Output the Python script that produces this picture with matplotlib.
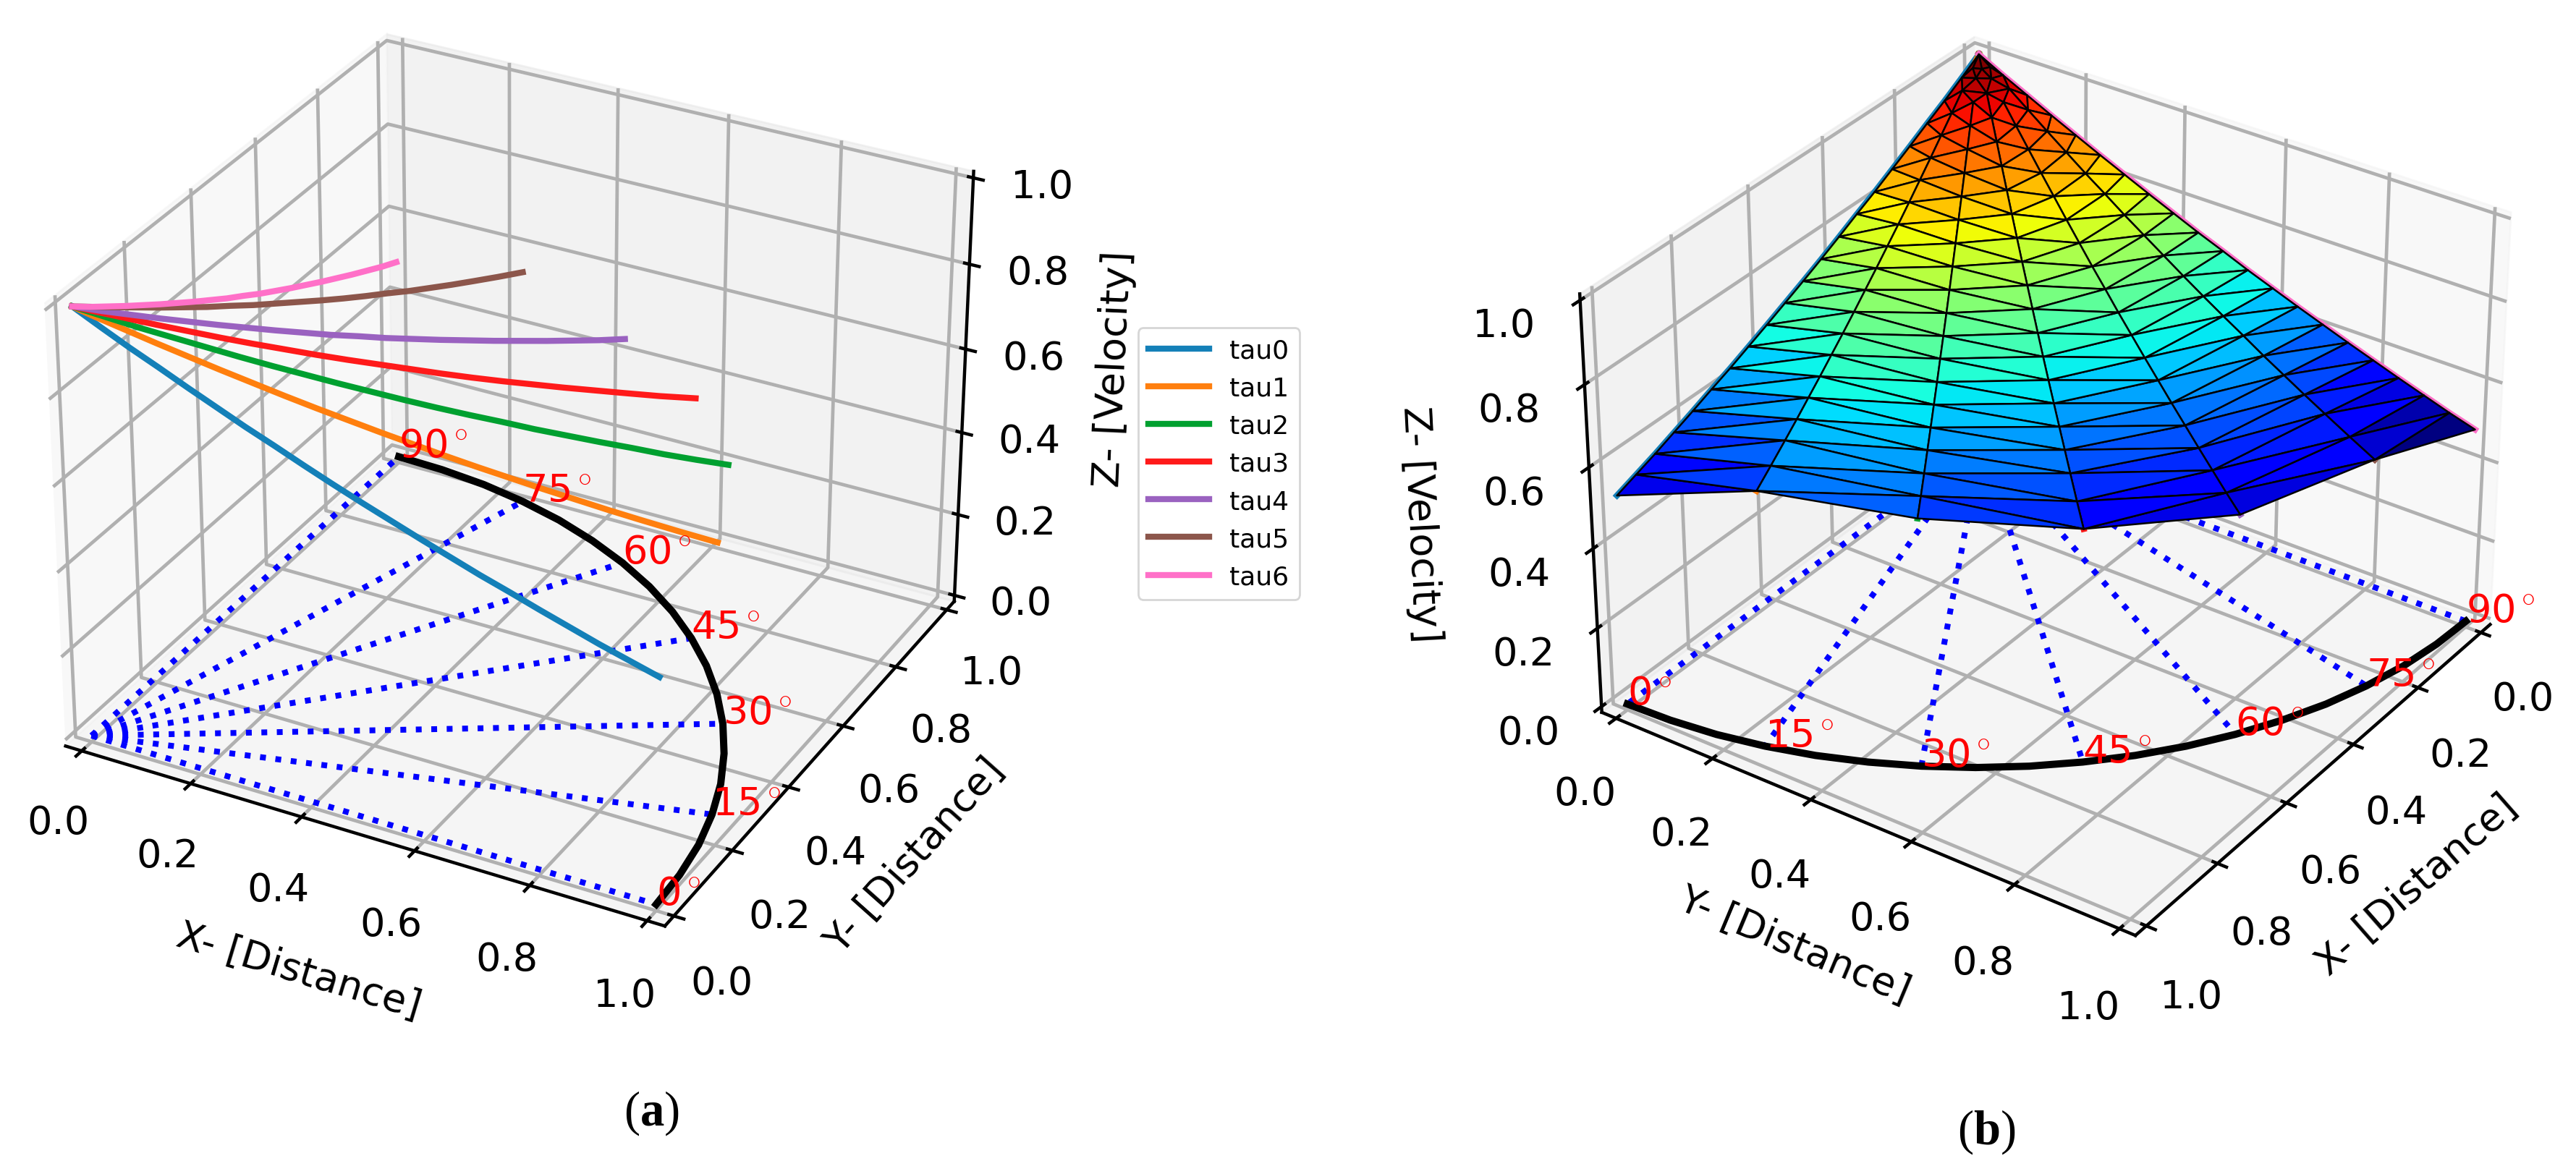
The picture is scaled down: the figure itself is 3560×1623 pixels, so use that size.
import numpy as np
import matplotlib
matplotlib.use("Agg")
import matplotlib.pyplot as plt

W = 3560
H = 1624

plt.rcParams['font.family'] = ['DejaVu Sans']
plt.rcParams['font.size'] = 19.5
plt.rcParams['mathtext.fontset'] = 'custom'
plt.rcParams['mathtext.rm'] = 'Liberation Serif'
plt.rcParams['mathtext.bf'] = 'Liberation Serif:bold'
plt.rcParams['axes.linewidth'] = 1.6
plt.rcParams['grid.linewidth'] = 1.7
plt.rcParams['xtick.major.width'] = 1.6
plt.rcParams['ytick.major.width'] = 1.6
plt.rcParams['xtick.major.size'] = 6
plt.rcParams['ytick.major.size'] = 6

tau_names = ["tau0", "tau1", "tau2", "tau3", "tau4", "tau5", "tau6"]
tau_colors = ["#1480b8", "#ff7f0e", "#00a030", "#ff1a1a", "#9a62c0", "#8c564b", "#ff70c8"]
angle_labels = ["0", "15", "30", "45", "60", "75", "90"]

# direction of each tau on the floor
ray_x = [1.0, 0.966, 0.866, 0.707, 0.5, 0.259, 0.0]
ray_y = [0.0, 0.259, 0.5, 0.707, 0.866, 0.966, 1.0]

# points of the black quarter circle
arc_x = [1.0, 0.996, 0.985, 0.966, 0.94, 0.906, 0.866, 0.819, 0.766, 0.707,
         0.643, 0.574, 0.5, 0.423, 0.342, 0.259, 0.174, 0.087, 0.0]
arc_y = [0.0, 0.087, 0.174, 0.259, 0.342, 0.423, 0.5, 0.574, 0.643, 0.707,
         0.766, 0.819, 0.866, 0.906, 0.94, 0.966, 0.985, 0.996, 1.0]

# even and odd taus are not sampled at the same radius
radius_even = [0.0, 0.05, 0.1, 0.15, 0.2, 0.25, 0.3, 0.35, 0.4, 0.45, 0.5,
               0.55, 0.6, 0.65, 0.7, 0.75, 0.8, 0.85, 0.9, 0.95, 1.0]
radius_odd = [0.0, 0.03, 0.08, 0.13, 0.18, 0.23, 0.28, 0.33, 0.38, 0.43, 0.48,
              0.53, 0.58, 0.63, 0.68, 0.73, 0.78, 0.83, 0.88, 0.94, 1.0]

z_tau0 = [1.0, 0.970, 0.941, 0.914, 0.886, 0.859, 0.832, 0.807, 0.781, 0.756, 0.732,
          0.709, 0.686, 0.664, 0.642, 0.622, 0.601, 0.581, 0.561, 0.543, 0.525]
z_tau1 = [1.0, 0.985, 0.962, 0.939, 0.917, 0.895, 0.874, 0.853, 0.833, 0.814, 0.795,
          0.777, 0.759, 0.742, 0.726, 0.710, 0.695, 0.680, 0.666, 0.650, 0.635]
z_tau2 = [1.0, 0.975, 0.950, 0.927, 0.904, 0.881, 0.859, 0.838, 0.817, 0.797, 0.777,
          0.758, 0.740, 0.723, 0.705, 0.689, 0.673, 0.658, 0.642, 0.628, 0.615]
z_tau3 = [1.0, 0.984, 0.958, 0.932, 0.907, 0.882, 0.858, 0.835, 0.812, 0.790, 0.769,
          0.748, 0.727, 0.707, 0.688, 0.670, 0.652, 0.635, 0.618, 0.598, 0.580]
z_tau4 = [1.0, 0.971, 0.944, 0.917, 0.891, 0.865, 0.840, 0.815, 0.791, 0.767, 0.745,
          0.722, 0.701, 0.680, 0.660, 0.640, 0.621, 0.602, 0.584, 0.566, 0.550]
z_tau5 = [1.0, 0.984, 0.957, 0.931, 0.905, 0.880, 0.855, 0.832, 0.808, 0.786, 0.764,
          0.742, 0.721, 0.701, 0.682, 0.662, 0.644, 0.626, 0.609, 0.589, 0.570]
z_tau6 = [1.0, 0.968, 0.938, 0.908, 0.879, 0.850, 0.822, 0.794, 0.767, 0.740, 0.715,
          0.689, 0.665, 0.641, 0.618, 0.595, 0.573, 0.551, 0.530, 0.509, 0.490]
z_all = [z_tau0, z_tau1, z_tau2, z_tau3, z_tau4, z_tau5, z_tau6]

ticks = [0.0, 0.2, 0.4, 0.6, 0.8, 1.0]


def tau_radius(i):
    if i % 2 == 0:
        return np.array(radius_even)
    return np.array(radius_odd)


def make_axes(fig, center_x, center_y, side, elev, azim):
    rect = [(center_x - side / 2) / W, 1 - (center_y + side / 2) / H, side / W, side / H]
    ax = fig.add_axes(rect, projection='3d')
    ax.set_facecolor('none')
    ax.computed_zorder = False
    ax.view_init(elev=elev, azim=azim)
    ax.set_xlim(-0.03, 1.03, view_margin=0)
    ax.set_ylim(-0.03, 1.03, view_margin=0)
    ax.set_zlim(-0.015, 1.015, view_margin=0)
    ax.set_xticks(ticks)
    ax.set_yticks(ticks)
    ax.set_zticks(ticks)
    ax.tick_params(axis='x', pad=13)
    ax.tick_params(axis='y', pad=13)
    ax.tick_params(axis='z', pad=13)
    return ax


def draw_floor(ax):
    for i in range(7):
        ax.plot([0, ray_x[i]], [0, ray_y[i]], [0, 0], ':', color='#0000ff', lw=2.9, zorder=1)
    for i in range(7):
        rad = tau_radius(i)
        ax.plot(rad * ray_x[i], rad * ray_y[i], z_all[i], color=tau_colors[i], lw=3,
                label=tau_names[i], zorder=2)


def draw_arc(ax):
    ax.plot(arc_x, arc_y, np.zeros(len(arc_x)), color='black', lw=3.6, zorder=4)
    for i in range(7):
        ax.text(ray_x[i], ray_y[i], 0, angle_labels[i] + r"$^\circ$", color='#ff0000',
                fontsize=19.5, zorder=5)


fig = plt.figure(figsize=(W / 200, H / 200), dpi=200)

ax1 = make_axes(fig, 698, 655, 1442, 30, -62)
ax1.tick_params(axis='x', pad=11)
draw_floor(ax1)
draw_arc(ax1)
ax1.set_xlabel("X- [Distance]", labelpad=27)
ax1.set_ylabel("Y- [Distance]", labelpad=24)
ax1.set_zlabel("Z- [Velocity]", labelpad=26)
ax1.legend(loc='center left', bbox_to_anchor=(1573 / W, 1 - 642 / H),
           bbox_transform=fig.transFigure, borderaxespad=0, fontsize=13, handlelength=2.3)

ax2 = make_axes(fig, 2816, 663, 1402, 32, 35)
draw_floor(ax2)
surf_x = np.concatenate([tau_radius(i) * ray_x[i] for i in range(7)])
surf_y = np.concatenate([tau_radius(i) * ray_y[i] for i in range(7)])
surf_z = np.concatenate(z_all)
ax2.plot_trisurf(surf_x, surf_y, surf_z, cmap='jet', edgecolor='black', linewidth=0.9, zorder=3)
draw_arc(ax2)
ax2.set_xlabel("X- [Distance]", labelpad=26)
ax2.set_ylabel("Y- [Distance]", labelpad=24)
ax2.set_zlabel("Z- [Velocity]", labelpad=27)

fig.text(900 / W, 1 - 1539 / H, r"$(\mathbf{a})$", fontsize=24, ha='center', va='center')
fig.text(2745 / W, 1 - 1565 / H, r"$(\mathbf{b})$", fontsize=24, ha='center', va='center')

fig.savefig("out.png", dpi=200)
